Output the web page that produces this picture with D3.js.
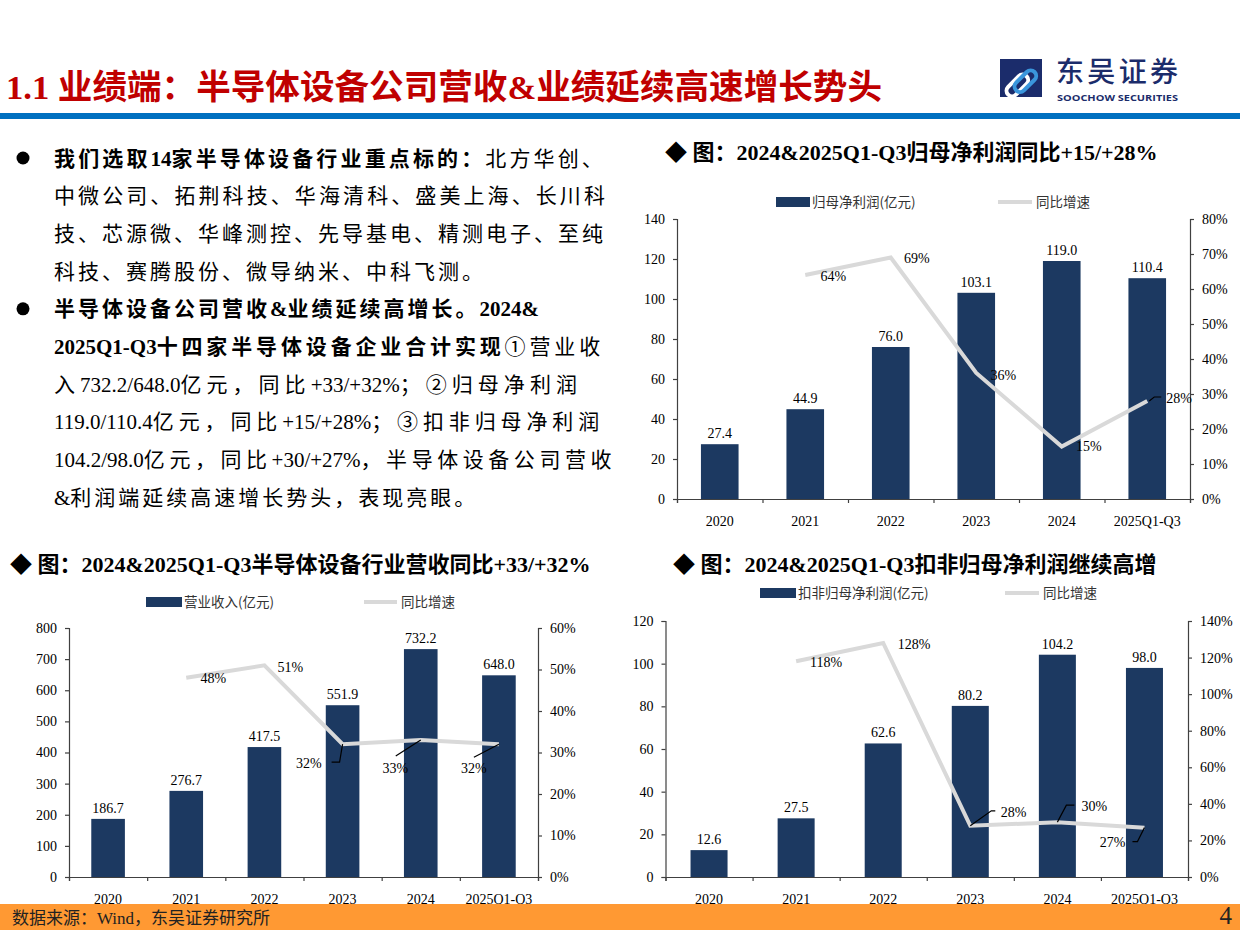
<!DOCTYPE html>
<html>
<head>
<meta charset="utf-8">
<script src="https://cdn.jsdelivr.net/npm/d3@7"></script>
<style>
body { margin: 0; background: #fff; }
svg { display: block; }
text { font-family: "Liberation Serif", "Times New Roman", "Noto Sans CJK SC", serif; }
</style>
</head>
<body>
<svg id="page" width="1240" height="930"></svg>
<script>
//categories
var years = ['2020', '2021', '2022', '2023', '2024', '2025Q1-Q3'];

//营业收入 (亿元) and 同比增速 (%)
var revenue = [186.7, 276.7, 417.5, 551.9, 732.2, 648.0];
var revenueYoY = [null, 48, 51, 32, 33, 32];

//归母净利润 (亿元) and 同比增速 (%)
var netProfit = [27.4, 44.9, 76.0, 103.1, 119.0, 110.4];
var netProfitYoY = [null, 64, 69, 36, 15, 28];

//扣非归母净利润 (亿元) and 同比增速 (%)
var deductedProfit = [12.6, 27.5, 62.6, 80.2, 104.2, 98.0];
var deductedYoY = [null, 118, 128, 28, 30, 27];

//axis ticks [max, step]
var revenueTicks = [800, 100], revenueYoYTicks = [60, 10];
var netTicks = [140, 20], netYoYTicks = [80, 10];
var deductedTicks = [120, 20], deductedYoYTicks = [140, 20];

var navy = '#1c3961', lineGrey = '#d9d9d9', axisColor = '#404040';

var svg = d3.select('#page');

// ---------- header ----------
svg.append('text')
  .attr('x', 6).attr('y', 99)
  .attr('font-size', 34.6).attr('font-weight', 'bold')
  .attr('fill', '#c00000')
  .text('1.1 业绩端：半导体设备公司营收&业绩延续高速增长势头');

svg.append('rect').attr('x', 0).attr('y', 113).attr('width', 1240).attr('height', 6).attr('fill', '#0070c0');

// logo
var logo = svg.append('g');
logo.append('rect').attr('x', 1000).attr('y', 59).attr('width', 42).attr('height', 38).attr('fill', '#1b2c6b');
logo.append('rect').attr('x', 1004).attr('y', 73).attr('width', 26).attr('height', 11).attr('rx', 5.5)
  .attr('fill', 'none').attr('stroke', '#ffffff').attr('stroke-width', 4)
  .attr('transform', 'rotate(-45 1017 78) translate(-5 5)');
logo.append('rect').attr('x', 1012).attr('y', 73).attr('width', 26).attr('height', 11).attr('rx', 5.5)
  .attr('fill', 'none').attr('stroke', '#3a96dc').attr('stroke-width', 4)
  .attr('transform', 'rotate(-45 1025 78) translate(-2 2)');
logo.append('text').attr('x', 1056).attr('y', 82)
  .style('font-family', '"Noto Sans CJK SC", sans-serif')
  .attr('font-size', 28).attr('font-weight', 500).attr('fill', '#1b2c6b')
  .attr('textLength', 122).attr('lengthAdjust', 'spacing')
  .text('东吴证券');
logo.append('text').attr('x', 1057).attr('y', 100.5)
  .style('font-family', '"Open Sans", "DejaVu Sans", sans-serif')
  .attr('font-size', 9.5).attr('font-weight', 'bold').attr('fill', '#1b2c6b')
  .attr('textLength', 121).attr('lengthAdjust', 'spacingAndGlyphs')
  .text('SOOCHOW SECURITIES');

// ---------- body text ----------
var bodyLines = [
  [['我们选取14家半导体设备行业重点标的：', 1], ['北方华创、', 0]],
  [['中微公司、拓荆科技、华海清科、盛美上海、长川科', 0]],
  [['技、芯源微、华峰测控、先导基电、精测电子、至纯', 0]],
  [['科技、赛腾股份、微导纳米、中科飞测。', 0]],
  [['半导体设备公司营收&业绩延续高增长。2024&', 1]],
  [['2025Q1-Q3十四家半导体设备企业合计实现', 1], ['①营业收', 0]],
  [['入732.2/648.0亿元，同比+33/+32%；②归母净利润', 0]],
  [['119.0/110.4亿元，同比+15/+28%；③扣非归母净利润', 0]],
  [['104.2/98.0亿元，同比+30/+27%，半导体设备公司营收', 0]],
  [['&利润端延续高速增长势头，表现亮眼。', 0]]
];
var lineEnds = [606, 608, 606, null, null, 604, 582, 604, 616, null];
var bulletLines = [0, 4];
var bodyX = 54, bodyTop = 158, bodyStep = 37.7;
var cjk = /[\u2460-\u24ff\u3000-\u9fff\uff00-\uffef]+|[^\u2460-\u24ff\u3000-\u9fff\uff00-\uffef]+/g;
var isCjk = /[\u2460-\u24ff\u3000-\u9fff\uff00-\uffef]/;

bodyLines.forEach(function(segs, i) {
  var cy = bodyTop + i * bodyStep;
  if (bulletLines.indexOf(i) >= 0) {
    svg.append('circle').attr('cx', 23).attr('cy', cy).attr('r', 6.5).attr('fill', '#000');
  }
  var t = svg.append('text').attr('x', bodyX).attr('y', cy + 7.5).attr('font-size', 21).attr('fill', '#000');
  var nCjk = 0;
  segs.forEach(function(s) {
    s[0].match(cjk).forEach(function(run) {
      var c = isCjk.test(run);
      if (c) nCjk += run.length;
      t.append('tspan')
        .attr('font-weight', s[1] ? 'bold' : 'normal')
        .attr('data-cjk', c ? 1 : 0)
        .style('letter-spacing', c ? '3px' : '0px')
        .text(run);
    });
  });
  // justify by widening the spacing of the CJK characters only
  if (lineEnds[i]) {
    var w = t.node().getComputedTextLength();
    var extra = (lineEnds[i] - bodyX - w) / nCjk;
    t.selectAll('tspan').filter(function() { return +this.getAttribute('data-cjk'); })
      .style('letter-spacing', (3 + extra) + 'px');
  }
});

// ---------- charts ----------
function drawChart(cfg) {
  var g = svg.append('g');
  var n = years.length;
  var x = d3.scaleBand().domain(years).range([cfg.left, cfg.right])
    .paddingInner(cfg.pad).paddingOuter(cfg.pad / 2);
  var yL = d3.scaleLinear().domain([0, cfg.leftTicks[0]]).range([cfg.bottom, cfg.top]);
  var yR = d3.scaleLinear().domain([0, cfg.rightTicks[0]]).range([cfg.bottom, cfg.top]);
  var cx = function(i) { return x(years[i]) + x.bandwidth() / 2; };

  // title
  g.append('text').attr('x', cfg.titleX).attr('y', cfg.titleY + 7.5)
    .attr('font-size', 22).attr('font-weight', 'bold').attr('fill', '#000')
    .text(cfg.title);

  // legend
  var lg = cfg.legend;
  g.append('rect').attr('x', lg.rect[0]).attr('y', lg.y - 5).attr('width', lg.rect[1] - lg.rect[0]).attr('height', 10)
    .attr('fill', navy);
  g.append('text').attr('x', lg.rect[1] + 2).attr('y', lg.y + 5).attr('font-size', 13.5)
    .style('font-family', '"Noto Sans CJK SC", sans-serif').attr('fill', '#333').text(cfg.barName);
  g.append('line').attr('x1', lg.line[0]).attr('x2', lg.line[1]).attr('y1', lg.y).attr('y2', lg.y)
    .attr('stroke', lineGrey).attr('stroke-width', 4);
  g.append('text').attr('x', lg.line[1] + 4).attr('y', lg.y + 5).attr('font-size', 13.5)
    .style('font-family', '"Noto Sans CJK SC", sans-serif').attr('fill', '#333').text('同比增速');

  // axes
  var ax = g.append('g').attr('class', 'axes');
  ax.append('g').attr('transform', 'translate(' + cfg.left + ',0)')
    .call(d3.axisLeft(yL).tickValues(d3.range(0, cfg.leftTicks[0] + 1, cfg.leftTicks[1]))
      .tickSize(4).tickPadding(8).tickFormat(d3.format('d')));
  ax.append('g').attr('transform', 'translate(' + cfg.right + ',0)')
    .call(d3.axisRight(yR).tickValues(d3.range(0, cfg.rightTicks[0] + 1, cfg.rightTicks[1]))
      .tickSize(4).tickPadding(8).tickFormat(function(d) { return d + '%'; }));
  var xEdge = d3.scaleLinear().domain([0, n]).range([cfg.left, cfg.right]);
  ax.append('g').attr('transform', 'translate(0,' + cfg.bottom + ')')
    .call(d3.axisBottom(xEdge).tickValues(d3.range(0, n + 1)).tickSize(4).tickFormat(''));
  ax.append('g').attr('transform', 'translate(0,' + cfg.bottom + ')')
    .call(d3.axisBottom(x).tickSize(0).tickPadding(17))
    .select('.domain').remove();
  ax.selectAll('.domain, .tick line').attr('stroke', axisColor).attr('stroke-width', 1.2);
  ax.selectAll('.tick text').attr('font-size', 14).attr('fill', '#000')
    .style('font-family', '"Liberation Serif", "Times New Roman", serif');

  // bars
  g.append('g').selectAll('rect').data(cfg.bars).enter().append('rect')
    .attr('x', function(d, i) { return x(years[i]); })
    .attr('y', function(d) { return yL(d); })
    .attr('width', x.bandwidth())
    .attr('height', function(d) { return cfg.bottom - yL(d); })
    .attr('fill', navy);

  g.append('g').selectAll('text').data(cfg.bars).enter().append('text')
    .attr('x', function(d, i) { return cx(i); })
    .attr('y', function(d) { return yL(d) - 6; })
    .attr('text-anchor', 'middle').attr('font-size', 14).attr('fill', '#000')
    .text(d3.format('.1f'));

  // growth line
  var line = d3.line()
    .defined(function(d) { return d != null; })
    .x(function(d, i) { return cx(i); })
    .y(function(d) { return yR(d); });
  g.append('path').datum(cfg.yoy).attr('d', line)
    .attr('fill', 'none').attr('stroke', lineGrey).attr('stroke-width', 4).attr('stroke-linejoin', 'miter');

  // growth labels and leaders
  cfg.yoy.forEach(function(v, i) {
    if (v == null) return;
    var p = cfg.yoyPos[i], px = cx(i), py = yR(v);
    if (p.leader) {
      g.append('path')
        .attr('d', d3.line()(p.leader.map(function(q) { return [px + q[0], py + q[1]]; })))
        .attr('fill', 'none').attr('stroke', '#000').attr('stroke-width', 1.2);
    }
    g.append('text').attr('x', px + p.dx).attr('y', py + p.dy + 5)
      .attr('text-anchor', p.anchor || 'middle').attr('font-size', 14).attr('fill', '#000')
      .text(v + '%');
  });
}

drawChart({
  title: '◆ 图：2024&2025Q1-Q3归母净利润同比+15/+28%', titleX: 665, titleY: 152,
  barName: '归母净利润(亿元)',
  legend: { y: 202, rect: [776, 810], line: [998, 1032] },
  left: 677, right: 1190, top: 219, bottom: 499, pad: 0.56,
  leftTicks: netTicks, rightTicks: netYoYTicks,
  bars: netProfit, yoy: netProfitYoY,
  yoyPos: [null,
    { dx: 28, dy: 1 }, { dx: 26, dy: 0 }, { dx: 27, dy: 2 }, { dx: 27, dy: -1 },
    { dx: 19, dy: -3, anchor: 'start', leader: [[2, 0], [7, -4], [14, -4]] }]
});

drawChart({
  title: '◆ 图：2024&2025Q1-Q3半导体设备行业营收同比+33/+32%', titleX: 10, titleY: 564,
  barName: '营业收入(亿元)',
  legend: { y: 602, rect: [146, 182], line: [364, 397] },
  left: 69, right: 538, top: 628, bottom: 877, pad: 0.57,
  leftTicks: revenueTicks, rightTicks: revenueYoYTicks,
  bars: revenue, yoy: revenueYoY,
  yoyPos: [null,
    { dx: 27, dy: 0 }, { dx: 26, dy: 2 },
    { dx: -21, dy: 18.5, anchor: 'end', leader: [[0, 0], [-3, 18], [-11, 18]] },
    { dx: -25.5, dy: 28, leader: [[0, 0], [-25, 16]] },
    { dx: -25, dy: 24, leader: [[0, 0], [-25, 13]] }]
});

drawChart({
  title: '◆ 图：2024&2025Q1-Q3扣非归母净利润继续高增', titleX: 673, titleY: 564,
  barName: '扣非归母净利润(亿元)',
  legend: { y: 593, rect: [760, 796], line: [1005, 1039] },
  left: 665.5, right: 1188, top: 621, bottom: 877, pad: 0.575,
  leftTicks: deductedTicks, rightTicks: deductedYoYTicks,
  bars: deductedProfit, yoy: deductedYoY,
  yoyPos: [null,
    { dx: 30, dy: 0.5 }, { dx: 31, dy: 1 },
    { dx: 30.5, dy: -14, anchor: 'start', leader: [[0, 0], [21, -15], [25, -15]] },
    { dx: 24, dy: -16, anchor: 'start', leader: [[0, 0], [9, -17], [17, -17]] },
    { dx: -19, dy: 14, anchor: 'end', leader: [[0, 0], [-7, 14], [-12, 14]] }]
});

// ---------- footer ----------
svg.append('rect').attr('x', 0).attr('y', 904).attr('width', 1240).attr('height', 26).attr('fill', '#ff9933');
svg.append('text').attr('x', 12).attr('y', 924).attr('font-size', 17).attr('fill', '#222')
  .text('数据来源：Wind，东吴证券研究所');
svg.append('text').attr('x', 1232).attr('y', 924).attr('text-anchor', 'end').attr('font-size', 25).attr('fill', '#222')
  .text('4');
</script>
</body>
</html>
